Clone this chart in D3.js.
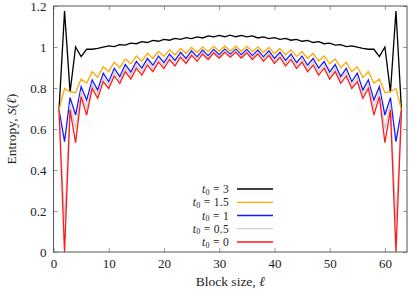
<!DOCTYPE html>
<html><head><meta charset="utf-8">
<script src="https://cdn.jsdelivr.net/npm/d3@7"></script>
<style>body{margin:0;background:#fff}svg{display:block}text{font-family:"Liberation Serif","DejaVu Serif",serif;fill:#222}</style>
</head><body><svg id="c" width="409" height="293"></svg>
<script>
const blockSizes = d3.range(1, 64);
const xTicks = [0,10,20,30,40,50,60];
const yTicks = [0,0.2,0.4,0.6,0.8,1,1.2];
const yTickLabels = ["0","0.2","0.4","0.6","0.8","1","1.2"];
const seriesNames = ["3","1.5","1","0.5","0"];
const seriesColors = ["#000000","#ffa800","#1a1aff","#d0d0d0","#ff1a1a"];
const sT3 = [0.693,1.175,0.78,1.0,0.953,0.989,0.989,0.993,0.999,1.005,1.002,1.012,1.009,1.019,1.016,1.026,1.022,1.032,1.028,1.037,1.033,1.042,1.037,1.046,1.041,1.049,1.044,1.054,1.049,1.057,1.05,1.058,
 1.05,1.057,1.049,1.054,1.044,1.049,1.041,1.046,1.037,1.042,1.033,1.037,1.028,1.032,1.022,1.026,1.016,1.019,1.009,1.012,1.002,1.005,0.999,0.993,0.989,0.989,0.953,1.0,0.78,1.175,0.693];
const sT15 = [0.693,0.798,0.782,0.777,0.844,0.823,0.88,0.852,0.904,0.88,0.925,0.899,0.942,0.918,0.956,0.932,0.968,0.944,0.978,0.954,0.986,0.962,0.993,0.968,0.998,0.973,1.001,0.977,1.003,0.979,1.004,0.98,
 1.004,0.979,1.003,0.977,1.001,0.973,0.998,0.968,0.993,0.962,0.986,0.954,0.978,0.944,0.968,0.932,0.956,0.918,0.942,0.899,0.925,0.88,0.904,0.852,0.88,0.823,0.844,0.777,0.782,0.798,0.693];
const sT1 = [0.693,0.538,0.753,0.668,0.806,0.741,0.839,0.79,0.872,0.831,0.896,0.855,0.914,0.878,0.93,0.897,0.944,0.911,0.956,0.924,0.966,0.935,0.974,0.944,0.981,0.952,0.985,0.958,0.988,0.962,0.99,0.965,
 0.99,0.962,0.988,0.958,0.985,0.952,0.981,0.944,0.974,0.935,0.966,0.924,0.956,0.911,0.944,0.897,0.93,0.878,0.914,0.855,0.896,0.831,0.872,0.79,0.839,0.741,0.806,0.668,0.753,0.538,0.693];
const sT05 = [0.693,0.15,0.72,0.6,0.782,0.705,0.818,0.77,0.851,0.814,0.877,0.839,0.897,0.861,0.913,0.88,0.928,0.895,0.941,0.909,0.952,0.921,0.962,0.932,0.97,0.941,0.975,0.948,0.979,0.954,0.982,0.957,
 0.982,0.954,0.979,0.948,0.975,0.941,0.97,0.932,0.962,0.921,0.952,0.909,0.941,0.895,0.928,0.88,0.913,0.861,0.897,0.839,0.877,0.814,0.851,0.77,0.818,0.705,0.782,0.6,0.72,0.15,0.693];
const sT0 = [0.693,0.0,0.693,0.533,0.758,0.668,0.798,0.75,0.831,0.798,0.859,0.823,0.88,0.844,0.897,0.863,0.912,0.88,0.926,0.895,0.939,0.908,0.95,0.92,0.959,0.93,0.966,0.939,0.971,0.946,0.974,0.95,
 0.974,0.946,0.971,0.939,0.966,0.93,0.959,0.92,0.95,0.908,0.939,0.895,0.926,0.88,0.912,0.863,0.897,0.844,0.88,0.823,0.859,0.798,0.831,0.75,0.798,0.668,0.758,0.533,0.693,0.0,0.693];
const seriesValues = [sT3, sT15, sT1, sT05, sT0];

const svg = d3.select("#c");
const L = 53.5, R = 407, T = 6, B = 252;
const x = d3.scaleLinear().domain([0,64]).range([L,R]);
const y = d3.scaleLinear().domain([0,1.2]).range([B,T]);

const g = svg.append("g");
const line = d3.line().x((d,i)=>x(blockSizes[i])).y(d=>y(d));
seriesValues.forEach((vals,k)=>{
  g.append("path").attr("d", line(vals)).attr("fill","none")
   .attr("stroke", seriesColors[k]).attr("stroke-width",1.3).attr("stroke-linejoin","miter");
});

const ax = (gen, tr) => svg.append("g").attr("transform", tr).call(gen);
const axB = ax(d3.axisBottom(x).tickValues(xTicks).tickSize(-4).tickPadding(7).tickFormat(d3.format("d")), `translate(0,${B})`);
const axT = ax(d3.axisTop(x).tickValues(xTicks).tickSize(-4).tickFormat(""), `translate(0,${T})`);
const axL = ax(d3.axisLeft(y).tickValues(yTicks).tickSize(-4).tickPadding(7).tickFormat((d,i)=>yTickLabels[i]), `translate(${L},0)`);
const axR = ax(d3.axisRight(y).tickValues(yTicks).tickSize(-4).tickFormat(""), `translate(${R},0)`);
[axB,axT,axL,axR].forEach(a=>{
  a.select(".domain").remove();
  a.selectAll(".tick line").attr("stroke","#999");
  a.selectAll("text").style("font-size","13px").attr("fill","#222");
});
svg.append("rect").attr("x",L).attr("y",T).attr("width",R-L).attr("height",B-T)
  .attr("fill","none").attr("stroke","#555").attr("stroke-width",1);

const xl = svg.append("text").attr("x",(L+R)/2).attr("y",286).attr("text-anchor","middle").style("font-size","13.5px");
xl.append("tspan").text("Block size, ");
xl.append("tspan").style("font-style","italic").text("ℓ");
const yl = svg.append("text").attr("transform",`translate(16,${(T+B)/2}) rotate(-90)`).attr("text-anchor","middle").style("font-size","13.5px");
yl.append("tspan").text("Entropy, ");
yl.append("tspan").style("font-style","italic").text("S");
yl.append("tspan").text("(");
yl.append("tspan").style("font-style","italic").text("ℓ");
yl.append("tspan").text(")");

const legY = [189,202.3,215.5,228.7,242];
seriesNames.forEach((nm,k)=>{
  const t = svg.append("text").attr("x",229).attr("y",legY[k]+4).attr("text-anchor","end").style("font-size","11.5px").attr("letter-spacing","0.3");
  t.append("tspan").style("font-style","italic").text("t");
  t.append("tspan").attr("dy",1.5).style("font-size","8px").text("0");
  t.append("tspan").attr("dy",-1.5).text(" = " + nm);
  svg.append("line").attr("x1",237).attr("x2",273).attr("y1",legY[k]).attr("y2",legY[k])
    .attr("stroke",seriesColors[k]).attr("stroke-width",1.3);
});
</script></body></html>
